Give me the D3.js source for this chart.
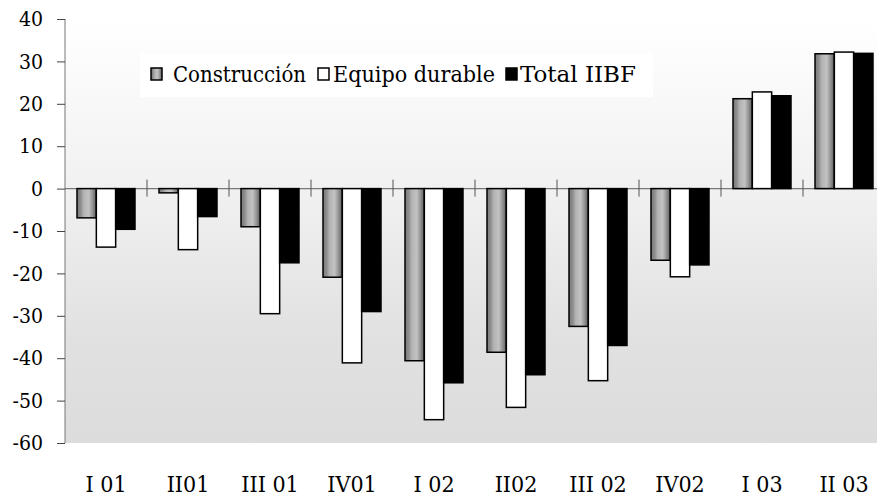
<!DOCTYPE html>
<html>
<head>
<meta charset="utf-8">
<script src="https://cdn.jsdelivr.net/npm/d3@7"></script>
<style>
body{margin:0;background:#fff;}
text{font-family:"DejaVu Serif Condensed","DejaVu Serif",serif;fill:#000;}
</style>
</head>
<body>
<svg id="chart" width="877" height="496"></svg>
<script>
// data
var categories=["I 01","II01","III 01","IV01","I 02","II02","III 02","IV02","I 03","II 03"];
var seriesNames=["Construcción","Equipo durable","Total IIBF"];
var construccion=[-6.9,-1.0,-9.0,-20.9,-40.6,-38.6,-32.5,-16.9,21.2,31.8];
var equipo=[-13.8,-14.4,-29.5,-41.1,-54.5,-51.6,-45.3,-20.8,22.8,32.2];
var total=[-9.6,-6.6,-17.5,-29.0,-45.8,-43.9,-37.0,-18.0,21.9,31.9];
var yTicks=[40,30,20,10,0,-10,-20,-30,-40,-50,-60];

var svg=d3.select("#chart");
var plotLeft=65,plotTop=19,plotBottom=443,band=82;
var serif='"DejaVu Serif Condensed","DejaVu Serif",serif';

var defs=svg.append("defs");
var bg=defs.append("linearGradient").attr("id","bg").attr("x1",0).attr("y1",0).attr("x2",0).attr("y2",1);
bg.append("stop").attr("offset","0%").attr("stop-color","#ffffff");
bg.append("stop").attr("offset","40%").attr("stop-color","#f1f1f1");
bg.append("stop").attr("offset","75%").attr("stop-color","#e1e1e1");
bg.append("stop").attr("offset","100%").attr("stop-color","#dcdcdc");

var gr=defs.append("linearGradient").attr("id","stripe").attr("x1",0).attr("y1",0).attr("x2",1).attr("y2",0);
[["0%","#7a7a7a"],["18%","#8c8c8c"],["35%","#b3b3b3"],["60%","#c2c2c2"],["78%","#999999"],["100%","#5e5e5e"]].forEach(function(s){
	gr.append("stop").attr("offset",s[0]).attr("stop-color",s[1]);
});

var x=d3.scaleBand().domain(categories).range([plotLeft,plotLeft+band*categories.length]).padding(0);
var x1=d3.scaleBand().domain(seriesNames).range([12,band-12]).padding(0);
var y=d3.scaleLinear().domain([-60,40]).range([plotBottom,plotTop]);

svg.append("rect").attr("x",plotLeft).attr("y",plotTop).attr("width",877-plotLeft).attr("height",plotBottom-plotTop).attr("fill","url(#bg)");

var fills={"Construcción":"url(#stripe)","Equipo durable":"#ffffff","Total IIBF":"#000000"};
var rows=categories.map(function(c,i){
	return [{s:seriesNames[0],c:c,v:construccion[i]},{s:seriesNames[1],c:c,v:equipo[i]},{s:seriesNames[2],c:c,v:total[i]}];
});

// zero line
svg.append("line").attr("x1",plotLeft).attr("x2",877).attr("y1",y(0)).attr("y2",y(0))
	.attr("stroke","#7a7a7a").attr("stroke-width",1.2);
svg.selectAll(".sep").data(categories.slice(1)).enter().append("line")
	.attr("x1",d=>x(d)).attr("x2",d=>x(d)).attr("y1",y(0)-9).attr("y2",y(0)+8)
	.attr("stroke","#555").attr("stroke-width",1);

svg.append("g").selectAll("g").data(rows).enter().append("g")
	.attr("transform",d=>"translate("+x(d[0].c)+",0)")
	.selectAll("rect").data(d=>d).enter().append("rect")
	.attr("x",d=>x1(d.s))
	.attr("width",x1.bandwidth())
	.attr("y",d=>y(Math.max(0,d.v)))
	.attr("height",d=>Math.abs(y(d.v)-y(0)))
	.attr("fill",d=>fills[d.s])
	.attr("stroke","#000").attr("stroke-width",1.5);

// y axis
var yAxis=svg.append("g").attr("transform","translate("+plotLeft+",0)")
	.call(d3.axisLeft(y).tickValues(yTicks).tickSize(8).tickPadding(14).tickFormat(d3.format("d")));
yAxis.select(".domain").attr("stroke","#777").attr("d","M0,"+plotTop+"V"+plotBottom);
yAxis.selectAll(".tick line").attr("stroke","#444");
yAxis.selectAll("text").attr("font-size",21).attr("font-family",serif).text(d=>d<0?"-"+Math.abs(d):d);

// x labels
var xAxis=svg.append("g").attr("transform","translate(0,"+plotBottom+")")
	.call(d3.axisBottom(x).tickSize(0).tickPadding(0));
xAxis.select(".domain").remove();
xAxis.selectAll("text").attr("y",49).attr("dy",0).attr("font-size",23).attr("font-family",serif);

// legend
var lg=svg.append("g");
lg.append("rect").attr("x",140).attr("y",53).attr("width",513).attr("height",44).attr("fill","#fff");
var legendX=[151,318,506];
var legendTextX=[22,15,14];
var legendW=[133,162,116];
var item=lg.selectAll(".item").data(seriesNames).enter().append("g")
	.attr("transform",(d,i)=>"translate("+legendX[i]+",68)");
item.append("rect").attr("width",11).attr("height",12).attr("fill",d=>fills[d]).attr("stroke","#000").attr("stroke-width",1.5);
item.append("text").attr("x",(d,i)=>legendTextX[i]).attr("y",14).attr("font-size",23).text(d=>d)
	.attr("textLength",(d,i)=>legendW[i]).attr("lengthAdjust","spacingAndGlyphs");
</script>
</body>
</html>
